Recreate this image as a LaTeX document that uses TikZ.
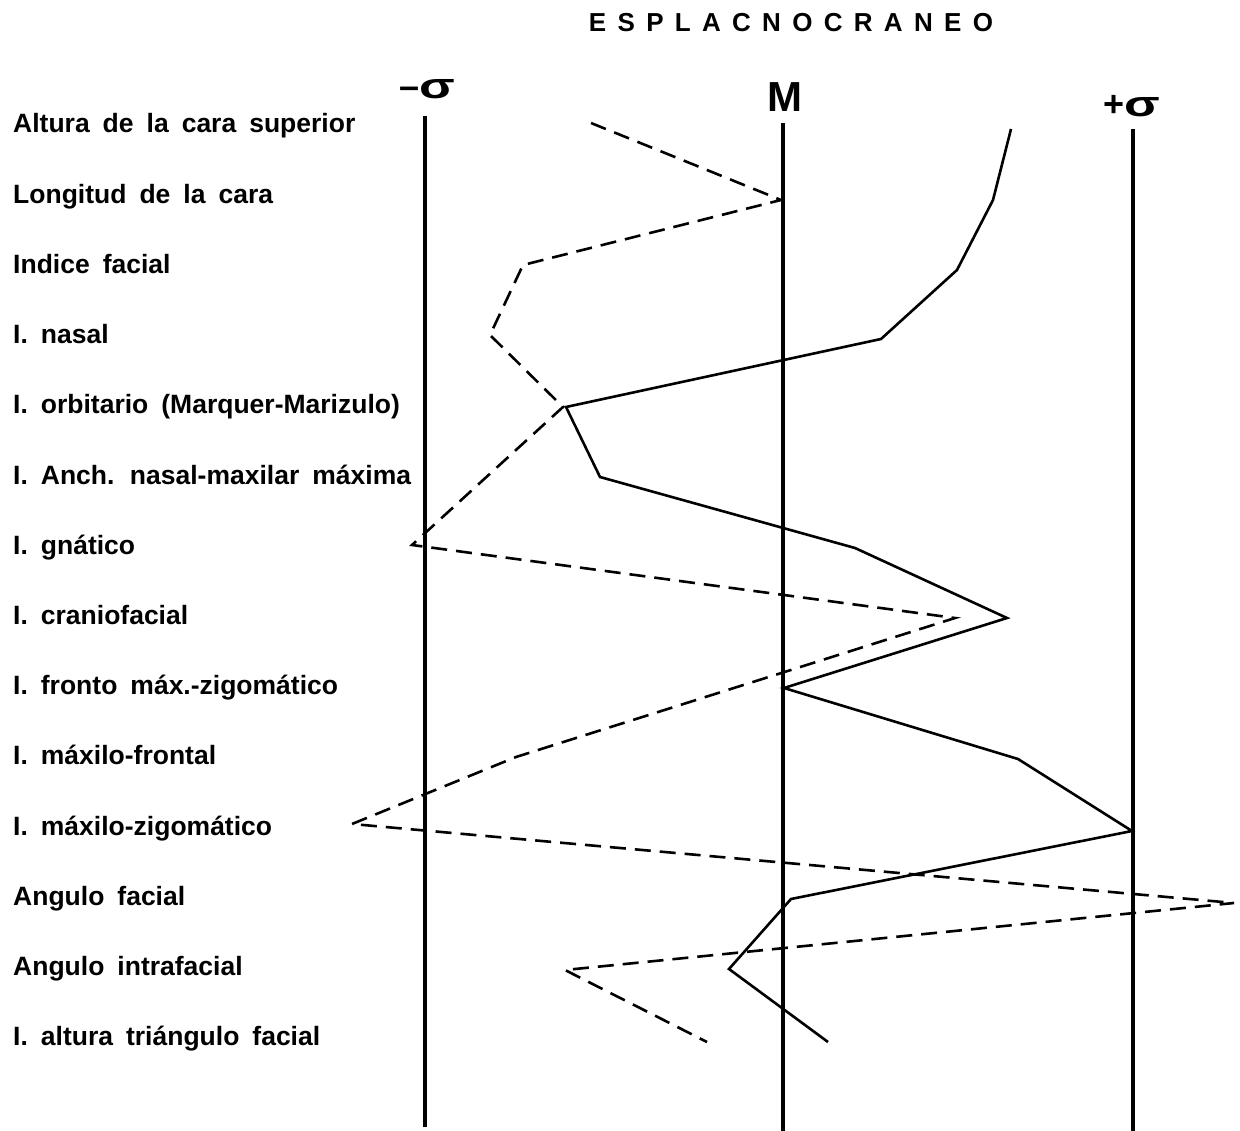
\documentclass[tikz,border=0pt]{standalone}
\usepackage{fontspec}
\setmainfont{Liberation Sans}
\usepackage{graphicx}
\newcommand{\sig}{\scalebox{1.45}[1]{σ}}
\newcommand{\lblsp}{\spaceskip=13pt plus 0pt minus 0pt\relax}
\newcommand{\ttlsp}{\spaceskip=11.3pt plus 0pt minus 0pt\relax}
\begin{document}
\begin{tikzpicture}[x=1pt,y=-1pt,
  axis/.style={line width=3.4pt},
  solidline/.style={line width=2.6pt, line join=miter},
  dashline/.style={line width=2.6pt, dash pattern=on 16pt off 9pt},
  lbl/.style={anchor=base west, inner sep=0pt, font=\bfseries\fontsize{26.5}{30}\selectfont},
  axlbl/.style={anchor=base, inner sep=0pt, font=\bfseries\fontsize{36}{40}\selectfont},
  ttl/.style={anchor=base, inner sep=0pt, font=\bfseries\fontsize{26}{30}\selectfont}]
\useasboundingbox (0,0) rectangle (1240,1131);

% title
\node[ttl] (title) at (791,32) {\ttlsp E S P L A C N O C R A N E O};

% axis labels
\node[axlbl] (lminus) at (427,99) {–\sig};
\node[axlbl, font=\bfseries\fontsize{42}{46}\selectfont] (lmean) at (785,112) {M};
\node[axlbl] (lplus) at (1132,117) {+\sig};

% axes
\coordinate (a1t) at (425,116); \coordinate (a1b) at (425,1127);
\coordinate (a2t) at (783,123); \coordinate (a2b) at (783,1131);
\coordinate (a3t) at (1133,129); \coordinate (a3b) at (1133,1131);
\draw[axis] (a1t) -- (a1b);
\draw[axis] (a2t) -- (a2b);
\draw[axis] (a3t) -- (a3b);

% row labels
\foreach \i/\t in {0/{Altura de la cara superior},
                   1/{Longitud de la cara},
                   2/{Indice facial},
                   3/{I. nasal},
                   4/{I. orbitario (Marquer-Marizulo)},
                   5/{I. Anch. nasal-maxilar máxima},
                   6/{I. gnático},
                   7/{I. craniofacial},
                   8/{I. fronto máx.-zigomático},
                   9/{I. máxilo-frontal},
                   10/{I. máxilo-zigomático},
                   11/{Angulo facial},
                   12/{Angulo intrafacial},
                   13/{I. altura triángulo facial}}
  \node[lbl] (row\i) at (13,{133+70.2*\i}) {\lblsp\t};

% solid profile
\coordinate (s1) at (1011,129);
\coordinate (s2) at (993,200);
\coordinate (s3) at (957,270);
\coordinate (s4) at (881,339);
\coordinate (s5) at (566,407);
\coordinate (s6) at (600,477);
\coordinate (s7) at (855,548);
\coordinate (s8) at (1007,618);
\coordinate (s9) at (784,688);
\coordinate (s10) at (1018,759);
\coordinate (s11) at (1132,831);
\coordinate (s12) at (791,899);
\coordinate (s13) at (729,969);
\coordinate (s14) at (828,1042);
\draw[solidline] (s1) -- (s2) -- (s3) -- (s4) -- (s5) -- (s6) -- (s7)
  -- (s8) -- (s9) -- (s10) -- (s11) -- (s12) -- (s13) -- (s14);

% dashed profile
\coordinate (d1) at (591,123);
\coordinate (d2) at (781,200);
\coordinate (d3) at (523,265);
\coordinate (d4) at (490,335);
\coordinate (d5) at (563,407);
\coordinate (d6) at (412,545);
\coordinate (d7) at (955,618);
\coordinate (d8) at (516,757);
\coordinate (d9) at (352,824);
\coordinate (d10) at (1234,903);
\coordinate (d11) at (565,970);
\coordinate (d12) at (707,1042);
\draw[dashline] (d1) -- (d2) -- (d3) -- (d4) -- (d5) -- (d6) -- (d7)
  -- (d8) -- (d9) -- (d10) -- (d11) -- (d12);
\end{tikzpicture}
\end{document}
